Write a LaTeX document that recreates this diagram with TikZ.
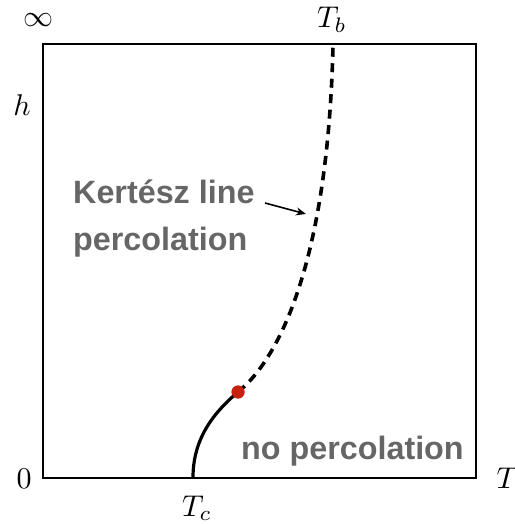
\documentclass[tikz,border=0pt]{standalone}
\usepackage{fontspec}
\setsansfont{Liberation Sans}
\usetikzlibrary{arrows.meta}
\definecolor{lblgray}{HTML}{666666}
\definecolor{dotred}{HTML}{C8200E}
\tikzset{
  mathlbl/.style={scale=3, inner sep=0pt},
  regionlbl/.style={font=\sffamily\bfseries\fontsize{32.3}{38}\selectfont, text=lblgray, inner sep=0pt},
  frame/.style={draw=black, line width=2pt},
  solidline/.style={line width=3.2pt},
  dashline/.style={line width=3.6pt, dash pattern=on 9pt off 6.5pt},
}
\begin{document}
\begin{tikzpicture}[x=1pt,y=-1pt]
\useasboundingbox (0,0) rectangle (514,524);
\draw[frame] (43,44.5) rectangle (475.5,477.5);
% labels
\node[mathlbl] (inf) at (38,20.5) {$\infty$};
\node[mathlbl, anchor=base] (tb) at (332,28) {$T_b$};
\node[mathlbl, anchor=base] (h) at (22,115) {$h$};
\node[mathlbl, anchor=base] (zero) at (24,488) {$0$};
\node[mathlbl, anchor=base west] (tt) at (496,488) {$T$};
\node[mathlbl, anchor=base] (tc) at (197,516) {$T_c$};
\node[regionlbl, anchor=base west] (kl) at (73,203) {Kertész line};
\node[regionlbl, anchor=base west] (perc) at (73,250) {percolation};
\node[regionlbl, anchor=base west] (noperc) at (241,459) {no percolation};
% curve
\coordinate (c0) at (193,477.5);
\coordinate (ctop) at (333,46);
\node[circle, fill=dotred, inner sep=0pt, minimum size=13pt] (dot) at (238,392) {};
\draw[solidline] (c0) .. controls (193,440) and (212,414) .. (dot.center);
\draw[dashline] (dot.center) .. controls (280,358) and (328,260) .. (ctop);
\node[circle, fill=dotred, inner sep=0pt, minimum size=13pt] at (dot) {};
% arrow
\coordinate (atail) at (265,203);
\coordinate (ahead) at (306,214);
\draw[line width=1.6pt, -{Stealth[length=10pt,width=8pt]}] (atail) -- (ahead);
\end{tikzpicture}
\end{document}
